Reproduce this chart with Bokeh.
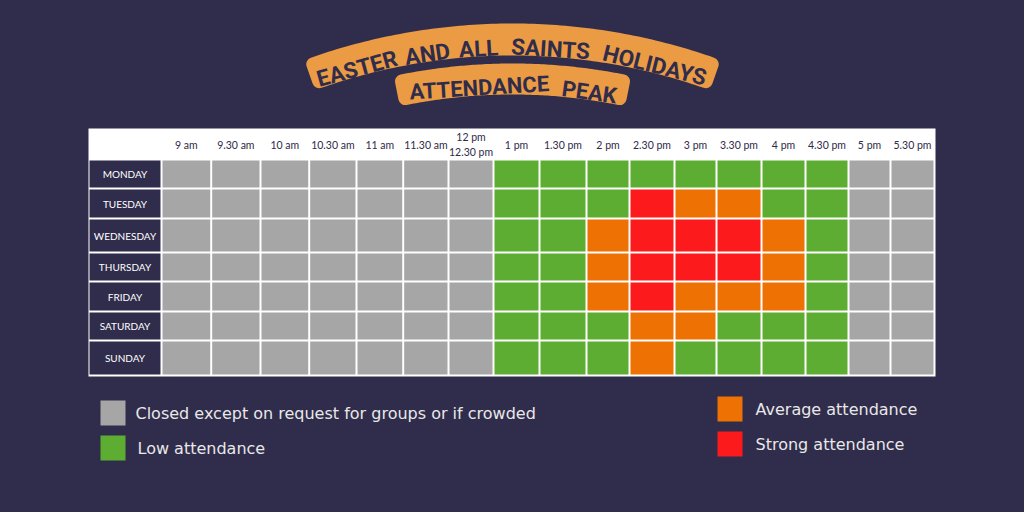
import numpy as np
from bokeh.plotting import figure
from bokeh.models import ColumnDataSource, Range1d, GlobalInlineStyleSheet
from bokeh.core.properties import value
from bokeh.embed import file_html
from bokeh.resources import INLINE

# ---------------- data ----------------
title_lines = ["EASTER AND ALL SAINTS HOLIDAYS", "ATTENDANCE PEAK"]
days = ["MONDAY", "TUESDAY", "WEDNESDAY", "THURSDAY", "FRIDAY", "SATURDAY", "SUNDAY"]
times = ["9 am", "9.30 am", "10 am", "10.30 am", "11 am", "11.30 am", "12 pm\n12.30 pm",
         "1 pm", "1.30 pm", "2 pm", "2.30 pm", "3 pm", "3.30 pm", "4 pm", "4.30 pm",
         "5 pm", "5.30 pm"]
# 0 = closed, 1 = low, 2 = average, 3 = strong
monday    = [0, 0, 0, 0, 0, 0, 0, 1, 1, 1, 1, 1, 1, 1, 1, 0, 0]
tuesday   = [0, 0, 0, 0, 0, 0, 0, 1, 1, 1, 3, 2, 2, 1, 1, 0, 0]
wednesday = [0, 0, 0, 0, 0, 0, 0, 1, 1, 2, 3, 3, 3, 2, 1, 0, 0]
thursday  = [0, 0, 0, 0, 0, 0, 0, 1, 1, 2, 3, 3, 3, 2, 1, 0, 0]
friday    = [0, 0, 0, 0, 0, 0, 0, 1, 1, 2, 3, 2, 2, 2, 1, 0, 0]
saturday  = [0, 0, 0, 0, 0, 0, 0, 1, 1, 1, 2, 2, 1, 1, 1, 0, 0]
sunday    = [0, 0, 0, 0, 0, 0, 0, 1, 1, 1, 2, 1, 1, 1, 1, 0, 0]
levels = [monday, tuesday, wednesday, thursday, friday, saturday, sunday]
legend_labels = ["Closed except on request for groups or if crowded", "Low attendance",
                 "Average attendance", "Strong attendance"]

# ---------------- styles / layout ----------------
BG = "#302c4b"
BANNER = "#eb9b43"
LEVEL_COLORS = ["#a6a6a6", "#5dad32", "#ee7203", "#fc1a1c"]
COL_EDGES = [161, 210.7, 260, 308.7, 356, 402.7, 448, 493, 539, 586, 629, 674, 716,
             761, 805, 848, 890, 934]
ROW_EDGES = [159, 188, 218, 252, 281, 311, 340, 375]

p = figure(width=1008, height=496, x_range=Range1d(0, 1008), y_range=Range1d(496, 0),
           output_backend="svg", toolbar_location=None, min_border=0,
           x_axis_location=None, y_axis_location=None,
           background_fill_color=BG, border_fill_color=BG, outline_line_color=None)
p.grid.visible = False
p.stylesheets = [GlobalInlineStyleSheet(css="html, body { background: #302c4b; }")]

# ---------------- title banners ----------------
CX, CY = 512.0, 635.0


def banner(r_out, r_in, half_deg, rr=7.0):
    r_mid = (r_out + r_in) / 2
    a = np.radians(half_deg) - rr / r_mid
    t = np.linspace(-a, a, 90)
    ro, ri = r_out - rr, r_in + rr
    xs = np.concatenate([CX + ro * np.sin(t), CX + ri * np.sin(t[::-1])])
    ys = np.concatenate([CY - ro * np.cos(t), CY - ri * np.cos(t[::-1])])
    p.patch(xs, ys, fill_color=BANNER, line_color=BANNER, line_width=2 * rr,
            line_join="round")


def arc_words(text, r_mid, half_deg, size, cap, gap):
    words = text.split(" ")
    units = sum(len(w) for w in words) + gap * (len(words) - 1)
    a = np.radians(half_deg)
    pos = 0.0
    xs, ys, angs = [], [], []
    rb = r_mid - cap / 2
    for w in words:
        c = pos + len(w) / 2
        th = -a + 2 * a * c / units
        xs.append(CX + rb * np.sin(th))
        ys.append(CY - rb * np.cos(th))
        angs.append(-th)
        pos += len(w) + gap
    p.text(x=xs, y=ys, text=words, angle=angs, text_align="center",
           text_baseline="alphabetic", text_font=value("Roboto"),
           text_font_style="bold", text_font_size=f"{size}px", text_color=BG)


banner(612, 580, 19.9)
banner(572, 541, 12.0)
arc_words(title_lines[0], 596, 19.3, 22.5, 16.0, 0.8)
arc_words(title_lines[1], 556.5, 11.1, 22, 15.6, 0.55)

# ---------------- table ----------------
p.quad(left=88, right=935, top=128, bottom=376, fill_color="white", line_color=None)

# row label cells
rl = dict(left=[], right=[], top=[], bottom=[], x=[], y=[], name=[])
for i, d in enumerate(days):
    rl["left"].append(89)
    rl["right"].append(160)
    rl["top"].append(ROW_EDGES[i] + 1)
    rl["bottom"].append(ROW_EDGES[i + 1] - 1)
    rl["x"].append(124.5)
    rl["y"].append((ROW_EDGES[i] + ROW_EDGES[i + 1]) / 2)
    rl["name"].append(d)
rls = ColumnDataSource(rl)
p.quad(left="left", right="right", top="top", bottom="bottom", source=rls,
       fill_color=BG, line_color=None)
p.text(x="x", y="y", text="name", source=rls, text_align="center",
       text_baseline="middle", text_font=value("Lato"), text_font_size="10px",
       text_color="white")

# heat cells
cells = dict(left=[], right=[], top=[], bottom=[], color=[])
for i, row in enumerate(levels):
    for j, lv in enumerate(row):
        cells["left"].append(COL_EDGES[j] + 1)
        cells["right"].append(COL_EDGES[j + 1] - 1)
        cells["top"].append(ROW_EDGES[i] + 1)
        cells["bottom"].append(ROW_EDGES[i + 1] - 1)
        cells["color"].append(LEVEL_COLORS[lv])
p.quad(left="left", right="right", top="top", bottom="bottom",
       source=ColumnDataSource(cells), fill_color="color", line_color=None)

# header labels
hx = [(COL_EDGES[j] + COL_EDGES[j + 1]) / 2 for j in range(len(times))]
hy = [144 if "\n" in t else 144.5 for t in times]
p.text(x=hx, y=hy, text=times, text_align="center", text_baseline="middle",
       text_font=value("Lato"), text_font_size="10.5px", text_color="#2e2a48",
       text_line_height=1.25)

# ---------------- legend ----------------
leg_left = [100, 100, 717, 717]
leg_top = [400, 435, 396, 431]
p.quad(left=leg_left, right=[l + 25 for l in leg_left], top=leg_top,
       bottom=[t + 25 for t in leg_top], fill_color=LEVEL_COLORS, line_color=None)
p.text(x=[135, 137, 755, 755], y=[t + 13 for t in leg_top], text=legend_labels,
       text_align="left", text_baseline="middle", text_font=value("DejaVu Sans"),
       text_font_size="16px", text_color="#e8e8e8")

open("out.html", "w").write(file_html(p, INLINE))
